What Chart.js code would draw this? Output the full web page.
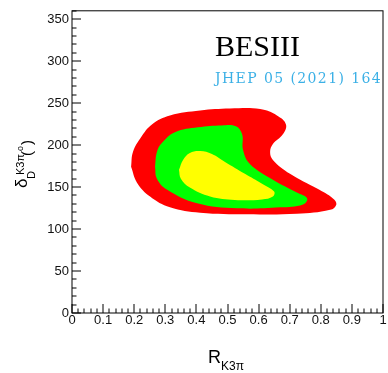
<!DOCTYPE html>
<html>
<head>
<meta charset="utf-8">
<script src="https://cdn.jsdelivr.net/npm/chart.js@4.4.1/dist/chart.umd.min.js"></script>
<style>
  html, body { margin: 0; padding: 0; background: #fff; }
</style>
</head>
<body>
<canvas id="contour-chart" width="388" height="373"></canvas>
<script>
// contour outlines: x = R_K3pi, y = delta_D (degrees)
const redX = [0.190, 0.196, 0.222, 0.257, 0.315, 0.412, 0.508, 0.605, 0.659, 0.688, 0.678, 0.646, 0.637, 0.646, 0.701, 0.788, 0.839, 0.850, 0.830, 0.723, 0.563, 0.412, 0.315, 0.251, 0.209, 0.190];
const redY = [174.1, 191.8, 209.4, 224.7, 235.3, 241.2, 243.5, 242.9, 235.3, 224.7, 212.9, 201.2, 191.8, 182.4, 165.9, 148.2, 136.5, 129.4, 122.9, 118.2, 117.6, 119.4, 125.9, 138.8, 155.3, 174.1];

const greenX = [0.267, 0.273, 0.289, 0.331, 0.405, 0.482, 0.527, 0.547, 0.550, 0.572, 0.646, 0.723, 0.756, 0.743, 0.669, 0.531, 0.402, 0.305, 0.273, 0.267];
const greenY = [174.1, 191.8, 202.4, 215.3, 221.2, 223.5, 222.4, 212.9, 194.1, 177.6, 158.8, 143.5, 136.5, 129.4, 125.9, 124.7, 130.6, 147.1, 160.0, 174.1];

const yellowX = [0.344, 0.357, 0.379, 0.412, 0.450, 0.492, 0.556, 0.611, 0.650, 0.646, 0.611, 0.524, 0.444, 0.379, 0.350, 0.344];
const yellowY = [170.6, 182.4, 190.6, 192.9, 189.4, 180.0, 165.9, 154.1, 144.7, 138.8, 135.3, 134.7, 138.8, 149.4, 160.0, 170.6];

const xTicks = [0, 0.1, 0.2, 0.3, 0.4, 0.5, 0.6, 0.7, 0.8, 0.9, 1];
const yTicks = [0, 50, 100, 150, 200, 250, 300, 350];
const xMinor = 0.02;
const yMinor = 10;

function toPoints(xs, ys) {
    return xs.map((x, i) => ({x: x, y: ys[i]}));
}

function contour(label, xs, ys, color, order) {
    return {
        label: label,
        data: toPoints(xs, ys),
        showLine: true,
        fill: 'shape',
        backgroundColor: color,
        borderColor: color,
        borderWidth: 0,
        pointRadius: 0,
        tension: 0.4,
        order: order
    };
}

// ROOT style frame with inward ticks
const framePlugin = {
    id: 'frame',
    afterDatasetsDraw(chart) {
        const ctx = chart.ctx;
        const a = chart.chartArea;
        const xs = chart.scales.x;
        const ys = chart.scales.y;
        ctx.save();
        ctx.strokeStyle = '#000';
        ctx.lineWidth = 1;
        ctx.beginPath();
        for (let i = 0; i <= 50; i++) {
            const px = Math.round(xs.getPixelForValue(i * xMinor));
            const len = i % 5 === 0 ? 9 : 4.5;
            ctx.moveTo(px, a.bottom);
            ctx.lineTo(px, a.bottom - len);
        }
        for (let i = 0; i <= 36; i++) {
            const py = Math.round(ys.getPixelForValue(i * yMinor));
            const len = i % 5 === 0 ? 9 : 4.5;
            ctx.moveTo(a.left, py);
            ctx.lineTo(a.left + len, py);
        }
        ctx.stroke();
        ctx.strokeRect(a.left, a.top, a.right - a.left, a.bottom - a.top);
        ctx.restore();
    },
    afterDraw(chart) {
        const ctx = chart.ctx;
        ctx.save();
        ctx.fillStyle = '#000';
        ctx.textBaseline = 'alphabetic';

        // experiment label
        ctx.font = '30px "Liberation Serif"';
        ctx.fillText('BESIII', 215, 56);
        ctx.fillStyle = '#3bb0e6';
        ctx.font = '14px "DejaVu Serif"';
        ctx.letterSpacing = '1.4px';
        ctx.fillText('JHEP 05 (2021) 164', 215, 83);
        ctx.letterSpacing = '0px';

        // x title R_K3pi
        ctx.fillStyle = '#000';
        ctx.font = '18px "Liberation Sans"';
        ctx.fillText('R', 208, 363);
        ctx.font = '12px "Liberation Sans"';
        ctx.fillText('K3\u03c0', 221, 370);

        // y title delta_D^K3pi (deg), rotated
        ctx.translate(27, 188);
        ctx.rotate(-Math.PI / 2);
        ctx.font = '17px "Liberation Sans"';
        ctx.fillText('\u03b4', 0, 0);
        ctx.font = '11px "Liberation Sans"';
        ctx.fillText('D', 9, 8);
        ctx.font = '11px "Liberation Sans"';
        ctx.fillText('K3\u03c0', 13, -3);
        ctx.font = '15px "Liberation Sans"';
        ctx.fillText('(', 32, 5);
        ctx.font = '9px "Liberation Sans"';
        ctx.fillText('o', 37, -4);
        ctx.font = '15px "Liberation Sans"';
        ctx.fillText(')', 43, 5);
        ctx.restore();
    }
};

new Chart(document.getElementById('contour-chart').getContext('2d'), {
    type: 'scatter',
    data: {
        datasets: [
            contour('68.3%', yellowX, yellowY, '#ffff00', 1),
            contour('95.5%', greenX, greenY, '#00ff00', 2),
            contour('99.7%', redX, redY, '#ff0000', 3)
        ]
    },
    options: {
        responsive: false,
        animation: false,
        devicePixelRatio: 1,
        layout: { padding: { top: 7, right: 5, left: 0, bottom: 0 } },
        plugins: {
            legend: { display: false },
            tooltip: { enabled: false }
        },
        scales: {
            x: {
                type: 'linear',
                min: 0,
                max: 1,
                afterBuildTicks: scale => { scale.ticks = xTicks.map(v => ({value: v})); },
                afterFit: scale => { scale.height = 60; },
                grid: { display: false, drawTicks: false },
                border: { display: false },
                ticks: {
                    padding: 0,
                    maxRotation: 0,
                    autoSkip: false,
                    color: '#111',
                    font: { family: 'Liberation Sans', size: 13 },
                    callback: v => String(v)
                }
            },
            y: {
                type: 'linear',
                min: 0,
                max: 360,
                afterBuildTicks: scale => { scale.ticks = yTicks.map(v => ({value: v})); },
                afterFit: scale => { scale.width = 72; },
                grid: { display: false, drawTicks: false },
                border: { display: false },
                ticks: {
                    padding: 3,
                    autoSkip: false,
                    color: '#111',
                    font: { family: 'Liberation Sans', size: 13 },
                    callback: v => String(v)
                }
            }
        }
    },
    plugins: [framePlugin]
});
</script>
</body>
</html>
